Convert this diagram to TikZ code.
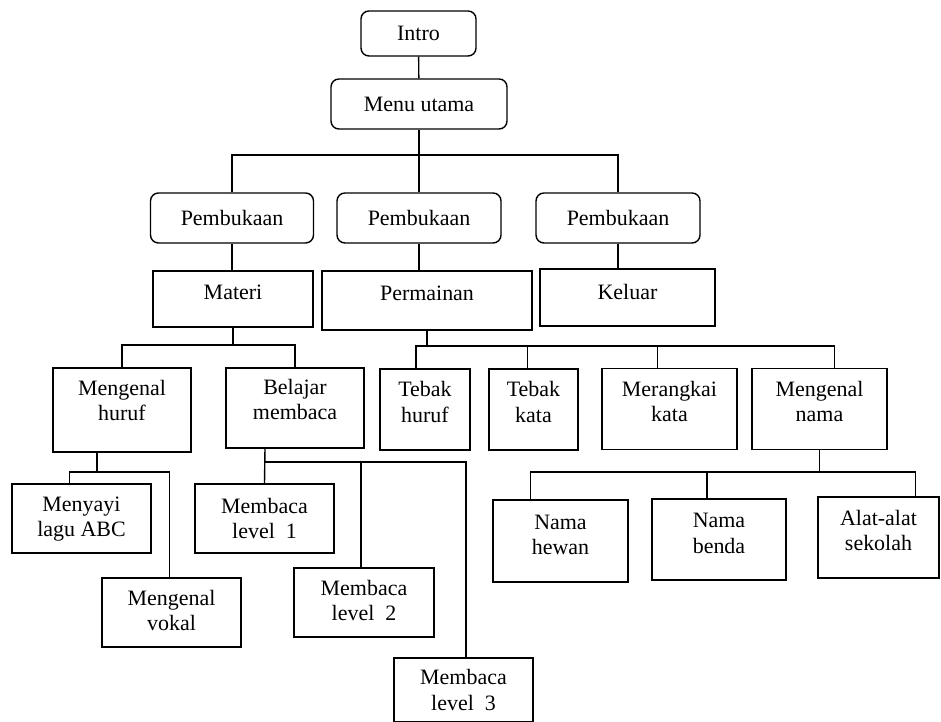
\documentclass[tikz,border=0pt]{standalone}
\usepackage{fontspec}
\setmainfont{Liberation Serif}
\usetikzlibrary{positioning,calc}

\begin{document}
\begin{tikzpicture}[
  x=0.02cm, y=-0.02cm,
  line width=0.8pt,
  every node/.style={draw,align=center,inner sep=2pt,font=\fontsize{12.5}{14.5}\selectfont},
  boxsize/.style 2 args={minimum width=#1*0.02cm,minimum height=#2*0.02cm},
  menubox/.style={rounded corners=4.5pt},
  % text sits a little high in the square boxes
  lift/.style={text depth=#1},
  link/.style={draw,line width=0.8pt}
]
\useasboundingbox (0,0) rectangle (941,722);

% --- top levels ---
\node[menubox,boxsize={115}{45}] (intro) at (418.5,33.5) {Intro};
\node[menubox,boxsize={176}{50}] (menu) at (419,104) {Menu utama};

\node[menubox,boxsize={163}{50}] (pbmateri) at (232,218) {Pembukaan};
\node[menubox,boxsize={164}{50}] (pbgame) at (419,218) {Pembukaan};
\node[menubox,boxsize={164}{50}] (pbexit) at (618,218) {Pembukaan};

\node[boxsize={160}{56},lift=0.28cm] (materi) at (233,299) {Materi};
\node[boxsize={210}{59},lift=0.3cm] (permainan) at (427,300.5) {Permainan};
\node[boxsize={175}{57},lift=0.24cm] (keluar) at (627.5,297.5) {Keluar};

% --- materi branch ---
\node[boxsize={138}{84},lift=0.38cm] (mhuruf) at (122,410) {Mengenal\\huruf};
\node[boxsize={138}{80},lift=0.34cm] (belajar) at (295,408) {Belajar\\membaca};
\node[boxsize={139}{69},lift=0.08cm] (nyanyi) at (81.5,518.5) {Menyayi\\lagu ABC};
\node[boxsize={139}{69},lift=0.08cm] (vokal) at (171.5,612.5) {Mengenal\\vokal};
\node[boxsize={139}{69}] (baca1) at (264.5,518.5) {Membaca\\level~~1};
\node[boxsize={140}{69},lift=0.08cm] (baca2) at (364,602.5) {Membaca\\level~~2};
\node[boxsize={139}{64}] (baca3) at (463.5,690) {Membaca\\level~~3};

% --- permainan branch ---
\node[boxsize={90}{81},lift=0.3cm] (thuruf) at (425,409.5) {Tebak\\huruf};
\node[boxsize={89}{81},lift=0.3cm] (tkata) at (533.5,409.5) {Tebak\\kata};
\node[boxsize={135}{81},lift=0.3cm] (rangkai) at (669.5,409) {Merangkai\\kata};
\node[boxsize={135}{81},lift=0.3cm] (mnama) at (819.5,409) {Mengenal\\nama};
\node[boxsize={135}{82},lift=0.24cm] (hewan) at (560.5,541) {Nama\\hewan};
\node[boxsize={134}{81},lift=0.24cm] (benda) at (719,539.5) {Nama\\benda};
\node[boxsize={121}{81},lift=0.28cm] (alat) at (878.5,537.5) {Alat-alat\\sekolah};

% --- bus lines ---
\coordinate (busmenu) at (0,155);
\coordinate (busmateri) at (0,345);
\coordinate (busgame) at (0,346);
\coordinate (bushuruf) at (0,472);
\coordinate (busbaca) at (0,462);
\coordinate (busnama) at (0,472);

% --- connectors ---
\draw[link] (intro) -- (menu);
\draw[link] (menu) -- (pbgame);
\draw[link] (pbmateri.north) |- (pbexit.north |- busmenu) -- (pbexit.north);
\draw[link] (pbmateri.south) -- (pbmateri.south |- materi.north);
\draw[link] (pbgame.south) -- (pbgame.south |- permainan.north);
\draw[link] (pbexit.south) -- (pbexit.south |- keluar.north);

\draw[link] (materi.south) -- (materi.south |- busmateri);
\draw[link] (mhuruf.north) |- (belajar.north |- busmateri) -- (belajar.north);

\draw[link] (permainan.south) -- (permainan.south |- busgame);
\draw[link] ($(thuruf.north)+(-9,0)$) |- ($(mnama.north |- busgame)+(15,0)$) -- ($(mnama.north)+(15,0)$);
\draw[link] ($(tkata.north)+(-6,0)$) -- ($(tkata.north |- busgame)+(-6,0)$);
\draw[link] ($(rangkai.north)+(-12,0)$) -- ($(rangkai.north |- busgame)+(-12,0)$);

\draw[link] ($(mhuruf.south)+(-25,0)$) -- ($(mhuruf.south |- bushuruf)+(-25,0)$);
\draw[link] ($(nyanyi.north)+(-12,0)$) |- ($(vokal.north |- bushuruf)+(-2,0)$) -- ($(vokal.north)+(-2,0)$);

\draw[link] ($(belajar.south)+(-30,0)$) -- (baca1.north);
\draw[link] (baca1.north |- busbaca) -| ($(baca3.north)+(2.5,0)$);
\draw[link] ($(baca2.north)+(-3,0)$) -- ($(baca2.north |- busbaca)+(-3,0)$);

\draw[link] (mnama.south) -- (mnama.south |- busnama);
\draw[link] ($(hewan.north)+(-30,0)$) |- ($(alat.north |- busnama)+(37,0)$) -- ($(alat.north)+(37,0)$);
\draw[link] ($(benda.north)+(-12,0)$) -- ($(benda.north |- busnama)+(-12,0)$);
\end{tikzpicture}
\end{document}
